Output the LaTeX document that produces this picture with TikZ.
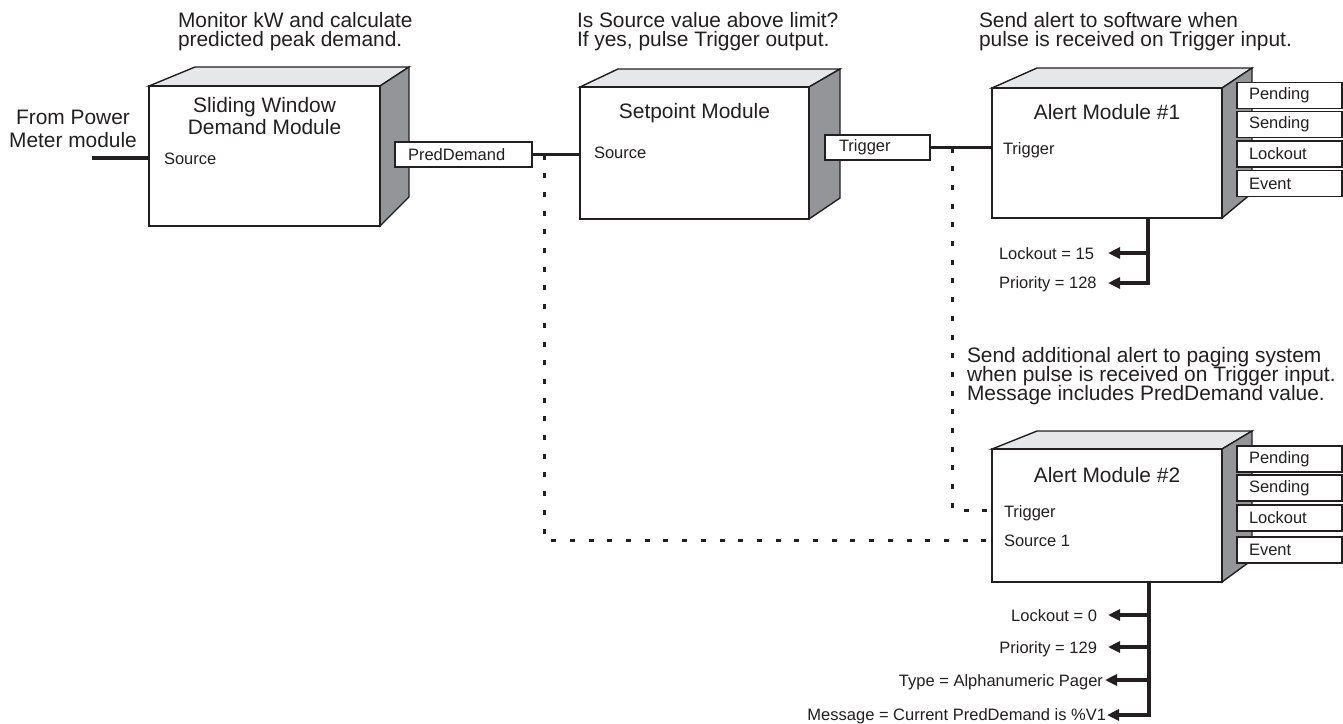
\documentclass[tikz,border=0pt]{standalone}
\usepackage{fontspec}
\setmainfont{Liberation Sans}
\usetikzlibrary{arrows.meta}
\definecolor{ink}{HTML}{231F20}
\definecolor{topgray}{HTML}{E6E7E8}
\definecolor{sidegray}{HTML}{939598}
\newcommand\bigf{\fontsize{20.9}{22}\selectfont}
\newcommand\smallf{\fontsize{16.5}{18}\selectfont}
\tikzset{
  facestyle/.style={draw=ink, line width=1.4pt, line join=miter},
  bigtxt/.style={inner sep=0pt, outer sep=0pt, text=ink, font=\bigf},
  smtxt/.style={inner sep=0pt, outer sep=0pt, text=ink, font=\smallf},
  port/.style={draw=ink, fill=white, line width=1.4pt, inner ysep=0pt, outer sep=0pt,
    align=left, text=ink, font=\smallf, anchor=north west},
  thickline/.style={draw=ink, line width=3.3pt},
  arr/.style={draw=ink, line width=3.3pt, -{Triangle[length=12pt,width=11pt]}},
  dotline/.style={draw=ink, line width=3pt, dash pattern=on 5pt off 13.7pt}
}
\newcommand\modcube[9]{%
  \filldraw[facestyle, fill=topgray] (#2,#3) -- (#6,#7) -- (#8,#7) -- (#4,#3) -- cycle;
  \filldraw[facestyle, fill=sidegray] (#4,#3) -- (#8,#7) -- (#8,#9) -- (#4,#5) -- cycle;
  \node[facestyle, fill=white, inner sep=0pt, outer sep=0pt, anchor=north west,
    minimum width={(#4-#2)*1pt}, minimum height={(#5-#3)*1pt}] (#1) at (#2,#3) {};
}
\begin{document}
\begin{tikzpicture}[x=1pt, y=-1pt]
\useasboundingbox (0,0) rectangle (1343,723);
\fill[white] (0,0) rectangle (1343,723);

% module cubes
\modcube{swd}{149}{86}{380}{226}{195}{67}{409}{197}
\modcube{spm}{580}{87}{809}{219}{618}{69}{840}{198}
\modcube{am1}{992}{88}{1222}{218}{1037}{68}{1252}{193}
\modcube{am2}{992}{449}{1222}{582}{1037}{431}{1252}{560}

% titles and inputs inside the cubes
\node[bigtxt, anchor=base] (swdt1) at (264.5,112) {Sliding Window};
\node[bigtxt, anchor=base] (swdt2) at (264.5,134) {Demand Module};
\node[smtxt, anchor=base west] (swdsrc) at (164,164) {Source};
\node[bigtxt, anchor=base] (spmt) at (694.5,118) {Setpoint Module};
\node[smtxt, anchor=base west] (spmsrc) at (594,158) {Source};
\node[bigtxt, anchor=base] (am1t) at (1107,119) {Alert Module \#1};
\node[smtxt, anchor=base west] (am1trg) at (1003,154) {Trigger};
\node[bigtxt, anchor=base] (am2t) at (1107,482) {Alert Module \#2};
\node[smtxt, anchor=base west] (am2trg) at (1004,517) {Trigger};
\node[smtxt, anchor=base west] (am2src) at (1004,546) {Source 1};

% output ports
\node[port, inner xsep=13pt, text width=111pt, minimum height=25pt] (pd) at (395,142) {PredDemand};
\node[port, inner xsep=14pt, text width=77pt, minimum height=25pt] (trg) at (825,135) {Trigger};

\node[port, inner xsep=12pt, text width=81pt, minimum height=26pt] (p1a) at (1237,82.5) {Pending};
\node[port, inner xsep=12pt, text width=81pt, minimum height=26pt] (p1b) at (1237,111.5) {Sending};
\node[port, inner xsep=12pt, text width=81pt, minimum height=26pt] (p1c) at (1237,141) {Lockout};
\node[port, inner xsep=12pt, text width=81pt, minimum height=26pt] (p1d) at (1237,170.5) {Event};

\node[port, inner xsep=12pt, text width=81pt, minimum height=26pt] (p2a) at (1237,446) {Pending};
\node[port, inner xsep=12pt, text width=81pt, minimum height=26pt] (p2b) at (1237,475) {Sending};
\node[port, inner xsep=12pt, text width=81pt, minimum height=26pt] (p2c) at (1237,505) {Lockout};
\node[port, inner xsep=12pt, text width=81pt, minimum height=26pt] (p2d) at (1237,537) {Event};

% input from power meter
\node[bigtxt, anchor=base] (fp1) at (73,124) {From Power};
\node[bigtxt, anchor=base] (fp2) at (73,147) {Meter module};
\coordinate (pin) at (92,158);
\draw[thickline] (pin) -- (pin -| swd.west);

% solid links
\draw[thickline] (pd.east) -- (pd.east -| spm.west);
\draw[thickline] (trg.east) -- (trg.east -| am1.west);

% dotted links to alert module 2
\coordinate (j1) at (544,154.5);
\coordinate (k1) at (544,540);
\coordinate (j2) at (952,147.5);
\coordinate (k2) at (952,510);
\draw[dotline] (j1) -- (k1) -- (k1 -| am2.west);
\draw[dotline] (j2) -- (k2) -- (k2 -| am2.west);

% headers
\node[bigtxt, anchor=base west] (h1a) at (178,27) {Monitor kW and calculate};
\node[bigtxt, anchor=base west] (h1b) at (178,46) {predicted peak demand.};
\node[bigtxt, anchor=base west] (h2a) at (577,27) {Is Source value above limit?};
\node[bigtxt, anchor=base west] (h2b) at (577,46) {If yes, pulse Trigger output.};
\node[bigtxt, anchor=base west] (h3a) at (979,27) {Send alert to software when};
\node[bigtxt, anchor=base west] (h3b) at (979,46) {pulse is received on Trigger input.};
\node[bigtxt, anchor=base west] (h4a) at (967,362) {Send additional alert to paging system};
\node[bigtxt, anchor=base west] (h4b) at (967,381) {when pulse is received on Trigger input.};
\node[bigtxt, anchor=base west] (h4c) at (967,400) {Message includes PredDemand value.};

% alert module 1 settings
\node[smtxt, anchor=base west] (lk1) at (999,259) {Lockout = 15};
\node[smtxt, anchor=base west] (pr1) at (999,288) {Priority = 128};
\coordinate (o1b) at (1148,283);
\coordinate (a11) at (1108,253);
\coordinate (a12) at (1108,283);
\draw[arr] (am1.south -| o1b) -- (o1b) -- (a12);
\draw[arr] (a11 -| o1b) -- (a11);

% alert module 2 settings
\node[smtxt, anchor=base east] (lk2) at (1097,621) {Lockout = 0};
\node[smtxt, anchor=base east] (pr2) at (1097,653) {Priority = 129};
\node[smtxt, anchor=base east] (ty2) at (1103,686) {Type = Alphanumeric Pager};
\node[smtxt, anchor=base east] (ms2) at (1106,720) {Message = Current PredDemand is \%V1};
\coordinate (o2b) at (1149,715);
\coordinate (a21) at (1108,615);
\coordinate (a22) at (1108,647);
\coordinate (a23) at (1105,680);
\coordinate (a24) at (1107,715);
\draw[arr] (am2.south -| o2b) -- (o2b) -- (a24);
\draw[arr] (a21 -| o2b) -- (a21);
\draw[arr] (a22 -| o2b) -- (a22);
\draw[arr] (a23 -| o2b) -- (a23);
\end{tikzpicture}
\end{document}
